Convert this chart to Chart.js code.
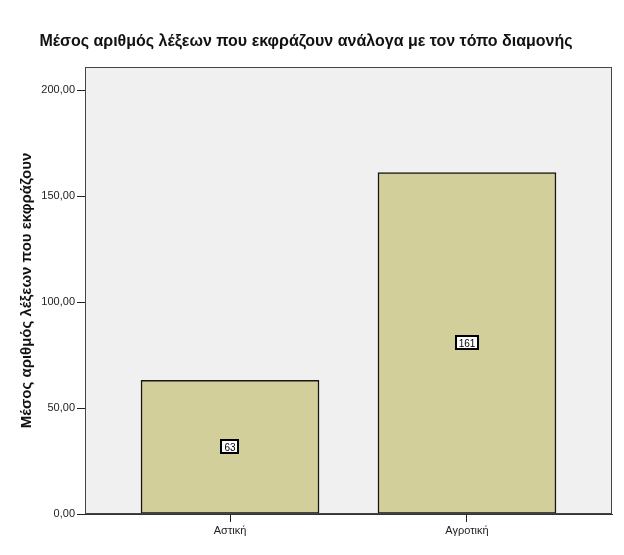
<!DOCTYPE html>
<html>
<head>
<meta charset="utf-8">
<script src="https://cdn.jsdelivr.net/npm/chart.js@4.4.1/dist/chart.umd.min.js"></script>
<style>
  html, body { margin: 0; padding: 0; background: #fff; }
  #wrap { width: 624px; height: 555px; }
</style>
</head>
<body>
<div id="wrap"><canvas id="chart" width="624" height="555"></canvas></div>
<script>
// values
const categories = ['Αστική', 'Αγροτική'];
const meanWords = [63, 161];
const barLabels = ['63', '161'];
const yTicks = [0, 50, 100, 150, 200];

const chartTitle = 'Μέσος αριθμός λέξεων που εκφράζουν ανάλογα με τον τόπο διαμονής';
const yTitle = 'Μέσος αριθμός λέξεων που εκφράζουν';

const FONT = '"Liberation Sans", Arial, sans-serif';

// grey plot background + frame (SPSS style)
const framePlugin = {
  id: 'frame',
  beforeDraw(chart) {
    const { ctx, chartArea: a } = chart;
    ctx.save();
    ctx.fillStyle = '#f0f0f0';
    ctx.fillRect(a.left, a.top, a.right - a.left, a.bottom - a.top);
    ctx.restore();
  },
  afterDraw(chart) {
    const { ctx, chartArea: a } = chart;
    ctx.save();
    ctx.strokeStyle = '#444';
    ctx.lineWidth = 1;
    ctx.strokeRect(Math.round(a.left) + 0.5, Math.round(a.top) + 0.5,
      Math.round(a.right - a.left) - 1, Math.round(a.bottom - a.top) - 1);
    ctx.restore();
  }
};

// small boxed value in the middle of each bar
const boxLabels = {
  id: 'boxLabels',
  afterDatasetsDraw(chart) {
    const { ctx } = chart;
    const meta = chart.getDatasetMeta(0);
    ctx.save();
    ctx.font = '10px ' + FONT;
    ctx.textAlign = 'center';
    ctx.textBaseline = 'middle';
    meta.data.forEach((bar, i) => {
      const txt = barLabels[i];
      const cx = Math.round(bar.x);
      const cy = Math.round((bar.y + bar.base) / 2);
      const w = Math.ceil(ctx.measureText(txt).width) + 7;
      const h = 15;
      const x0 = cx - Math.round(w / 2), y0 = cy - Math.round(h / 2);
      ctx.fillStyle = '#fff';
      ctx.fillRect(x0, y0, w, h);
      ctx.strokeStyle = '#000';
      ctx.lineWidth = 2;
      ctx.strokeRect(x0 + 1, y0 + 1, w - 2, h - 2);
      ctx.fillStyle = '#000';
      ctx.fillText(txt, cx, cy + 1);
    });
    ctx.restore();
  }
};

new Chart(document.getElementById('chart'), {
  type: 'bar',
  data: {
    datasets: [{
      data: categories.map((c, i) => ({ x: i, y: meanWords[i] })),
      backgroundColor: '#d3cf9b',
      borderColor: '#161616',
      borderWidth: 1.5,
      borderSkipped: false,
      barThickness: 178
    }]
  },
  plugins: [framePlugin, boxLabels],
  options: {
    responsive: false,
    devicePixelRatio: 1,
    animation: false,
    layout: { padding: { left: 0, right: 12, top: 0, bottom: 0 } },
    scales: {
      x: {
        type: 'linear',
        min: -0.612,
        max: 1.612,
        offset: false,
        afterBuildTicks: (scale) => { scale.ticks = categories.map((c, i) => ({ value: i })); },
        afterFit: (scale) => { scale.height = 41; },
        grid: { offset: false, drawOnChartArea: false, drawTicks: true, tickLength: 8, color: '#222' },
        border: { display: true, color: '#333' },
        ticks: {
          autoSkip: false,
          maxRotation: 0,
          padding: 2,
          color: '#222',
          font: { family: FONT, size: 11 },
          callback: (v) => categories[v]
        }
      },
      y: {
        min: 0,
        max: 210.85,
        afterBuildTicks: (scale) => { scale.ticks = yTicks.map(v => ({ value: v })); },
        afterFit: (scale) => { scale.width = 85; },
        grid: { drawOnChartArea: false, drawTicks: true, tickLength: 8, color: '#222' },
        border: { display: true, color: '#333' },
        ticks: {
          padding: 2,
          color: '#222',
          font: { family: FONT, size: 11 },
          callback: (v) => v.toFixed(2).replace('.', ',')
        },
        title: {
          display: true,
          text: yTitle,
          color: '#111',
          font: { family: FONT, size: 15, weight: 'bold' },
          padding: { top: 18, bottom: 0 }
        }
      }
    },
    plugins: {
      legend: { display: false },
      tooltip: { enabled: false },
      title: {
        display: true,
        text: chartTitle,
        color: '#111',
        font: { family: FONT, size: 16, weight: 'bold', lineHeight: 1.2 },
        padding: { top: 32, bottom: 15.8 }
      }
    }
  }
});
</script>
</body>
</html>
